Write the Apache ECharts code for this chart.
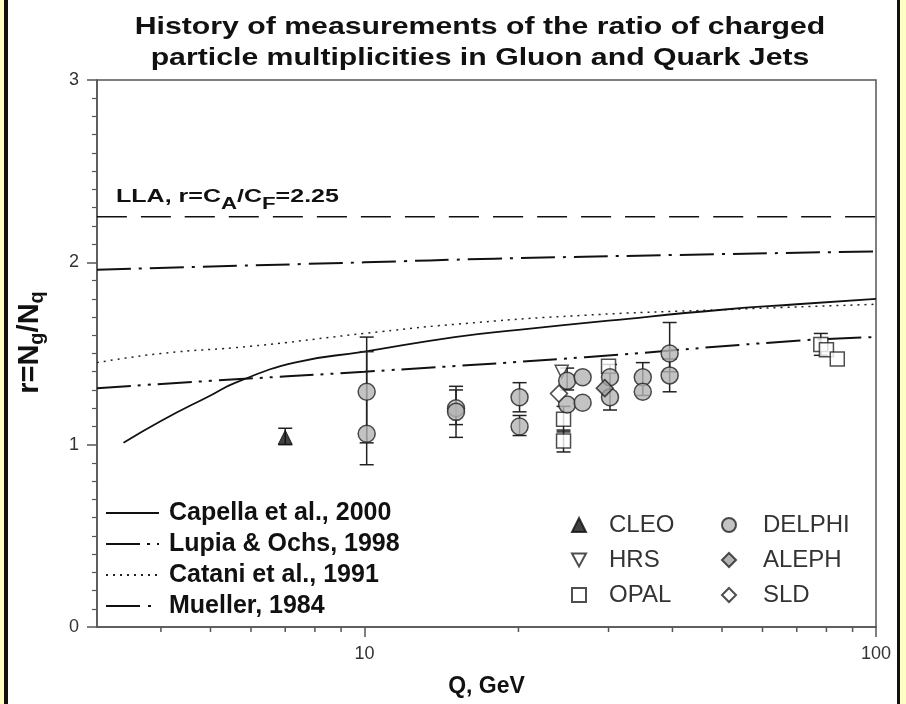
<!DOCTYPE html>
<html>
<head>
<meta charset="utf-8">
<script src="https://cdn.jsdelivr.net/npm/echarts@6/dist/echarts.min.js"></script>
<style>
  html, body { margin: 0; padding: 0; background: #fff; }
  #chart { width: 906px; height: 704px; }
</style>
</head>
<body>
<div id="chart"></div>
<script>
// theory curves: [Q, r]
const llaCurve = [[3, 2.25], [100, 2.25]];
const muellerCurve = [[3, 1.96], [10, 2.00], [18, 2.02], [40, 2.04], [100, 2.06]];
const lupiaCurve = [[3, 1.31], [5, 1.35], [10, 1.40], [27, 1.48], [70, 1.57], [100, 1.59]];
const cataniCurve = [[3, 1.45], [4, 1.50], [6, 1.54], [10, 1.61], [15, 1.66], [27, 1.71], [50, 1.74], [100, 1.77]];
const capellaCurve = [[3.38, 1.01], [4, 1.13], [5, 1.27], [5.6, 1.34], [7.3, 1.45], [10, 1.51], [15, 1.59], [20, 1.63], [30, 1.68], [50, 1.74], [70, 1.77], [100, 1.80]];

// measurements: [Q, r]
const cleoPts = [[7.0, 1.04]];
const hrsPts = [[24.3, 1.40]];
const opalPts = [[24.5, 1.14], [24.5, 1.02], [30, 1.43], [78, 1.55], [80, 1.52], [84, 1.47]];
const delphiPts = [[10.1, 1.29], [10.1, 1.06], [15.1, 1.20], [15.1, 1.18], [20.1, 1.26], [20.1, 1.10],
  [24.9, 1.35], [24.9, 1.22], [26.7, 1.37], [26.7, 1.23], [30.2, 1.37], [30.2, 1.26],
  [35, 1.37], [35, 1.29], [39.5, 1.50], [39.5, 1.38]];
const alephPts = [[29.5, 1.31]];
const sldPts = [[24.0, 1.28]];

// error bars: [Q, low, high]
const errBars = [[7.0, 1.00, 1.09], [10.1, 1.01, 1.59], [10.1, 0.89, 1.51], [15.1, 1.11, 1.32], [15.1, 1.04, 1.30],
  [20.1, 1.18, 1.34], [20.1, 1.05, 1.16], [24.5, 1.07, 1.21], [24.5, 0.96, 1.08], [24.9, 1.30, 1.42],
  [30.2, 1.19, 1.44], [35, 1.27, 1.45], [39.5, 1.40, 1.67], [39.5, 1.29, 1.47], [78, 1.49, 1.61]];

// x minor ticks (log axis)
const xMinorTicks = [4, 5, 6, 7, 8, 9, 20, 30, 40, 50, 60, 70, 80, 90];

const chart = echarts.init(document.getElementById('chart'));

function renderErr(params, api) {
  const a = api.coord([api.value(0), api.value(1)]);
  const b = api.coord([api.value(0), api.value(2)]);
  const w = 7;
  const st = { stroke: '#222', lineWidth: 1.5 };
  return {
    type: 'group',
    children: [
      { type: 'line', shape: { x1: a[0], y1: a[1], x2: b[0], y2: b[1] }, style: st },
      { type: 'line', shape: { x1: a[0] - w, y1: a[1], x2: a[0] + w, y2: a[1] }, style: st },
      { type: 'line', shape: { x1: b[0] - w, y1: b[1], x2: b[0] + w, y2: b[1] }, style: st }
    ]
  };
}

function renderTick(params, api) {
  const p = api.coord([api.value(0), 0]);
  return { type: 'line', shape: { x1: p[0], y1: p[1], x2: p[0], y2: p[1] + 5 }, style: { stroke: '#555', lineWidth: 1.5 } };
}

const lineBase = { type: 'line', smooth: true, showSymbol: false, symbol: 'none', silent: true, z: 3, itemStyle: { color: '#111' } };
const ptBase = { type: 'scatter', z: 6 };

chart.setOption({
  animation: false,
  textStyle: { fontFamily: 'Liberation Sans' },
  grid: { left: 97, right: 30, top: 80, bottom: 77, show: true, borderColor: '#555', borderWidth: 1.5, backgroundColor: 'transparent' },
  legend: [
    {
      orient: 'vertical', left: 100, top: 494, itemWidth: 53, itemHeight: 14, itemGap: 3,
      itemStyle: { opacity: 0 },
      data: ['Capella et al., 2000', 'Lupia & Ochs, 1998', 'Catani et al., 1991', 'Mueller, 1984'],
      textStyle: { fontSize: 25, fontWeight: 'bold', color: '#111', lineHeight: 28, padding: [0, 0, 0, 5] }
    },
    {
      orient: 'vertical', left: 566, top: 506, itemWidth: 14, itemHeight: 14, itemGap: 7,
      data: ['CLEO', { name: 'HRS', icon: 'path://M0,0 L12,0 L6,11 Z' }, 'OPAL'],
      textStyle: { fontSize: 24, color: '#333', lineHeight: 28, padding: [0, 0, 0, 18] }
    },
    {
      orient: 'vertical', left: 716, top: 506, itemWidth: 14, itemHeight: 14, itemGap: 7,
      data: ['DELPHI', 'ALEPH', 'SLD'],
      textStyle: { fontSize: 24, color: '#333', lineHeight: 28, padding: [0, 0, 0, 22] }
    }
  ],
  xAxis: {
    type: 'log', logBase: 10, min: 3, max: 100,
    name: 'Q, GeV', nameLocation: 'middle', nameGap: 48,
    nameTextStyle: { fontSize: 23, fontWeight: 'bold', color: '#111' },
    axisLine: { lineStyle: { color: '#555', width: 1.5 } },
    axisTick: { length: 10, lineStyle: { color: '#555', width: 1.5 } },
    axisLabel: {
      fontSize: 18, color: '#333', margin: 18, showMinLabel: false,
      formatter: function (v) { const l = Math.log10(v); return Math.abs(l - Math.round(l)) < 1e-6 ? String(Math.round(v)) : ''; }
    },
    splitLine: { show: false }
  },
  yAxis: {
    type: 'value', min: 0, max: 3, interval: 1,
    name: 'r=N{s|g}/N{s|q}', nameLocation: 'middle', nameGap: 50,
    nameTextStyle: {
      fontSize: 29, fontWeight: 'bold', color: '#111', padding: [0, 0, 0, 22],
      rich: { s: { fontSize: 20, fontWeight: 'bold', verticalAlign: 'bottom', padding: [15, 0, 0, 0] } }
    },
    axisLine: { lineStyle: { color: '#555', width: 1.5 } },
    axisTick: { length: 10, lineStyle: { color: '#555', width: 1.5 } },
    minorTick: { show: true, splitNumber: 10, length: 5, lineStyle: { color: '#555', width: 1.2 } },
    axisLabel: { fontSize: 18, color: '#333', margin: 18 },
    splitLine: { show: false }
  },
  graphic: [
    { type: 'rect', shape: { x: 0, y: 0, width: 4, height: 704 }, style: { fill: '#ffffc4' } },
    { type: 'rect', shape: { x: 4, y: 0, width: 4, height: 704 }, style: { fill: '#111' } },
    { type: 'rect', shape: { x: 897, y: 0, width: 3, height: 704 }, style: { fill: '#111' } },
    { type: 'rect', shape: { x: 900, y: 0, width: 6, height: 704 }, style: { fill: '#ffffc4' } },
    {
      type: 'text', x: 480, y: 12, scaleX: 1.26,
      style: {
        text: 'History of measurements of the ratio of charged\nparticle multiplicities in Gluon and Quark Jets',
        font: 'bold 24px "Liberation Sans"', fill: '#111', textAlign: 'center', lineHeight: 31
      }
    },
    {
      type: 'text', x: 116, y: 181, scaleX: 1.39,
      style: {
        text: 'LLA, r=C{s|A}/C{s|F}=2.25', font: 'bold 18px "Liberation Sans"', fill: '#111',
        rich: { s: { font: 'bold 16px "Liberation Sans"', fill: '#111', padding: [16, 0, 0, 0] } }
      }
    }
  ],
  series: [
    Object.assign({}, lineBase, { name: 'LLA', data: llaCurve, lineStyle: { color: '#111', width: 1.5, type: [30, 14] } }),
    Object.assign({}, lineBase, { name: 'Mueller, 1984', data: muellerCurve, lineStyle: { color: '#111', width: 2, type: [34, 8, 3, 8] } }),
    Object.assign({}, lineBase, { name: 'Lupia & Ochs, 1998', data: lupiaCurve, lineStyle: { color: '#111', width: 2, type: [34, 7, 3, 7, 3, 7] } }),
    Object.assign({}, lineBase, { name: 'Catani et al., 1991', data: cataniCurve, lineStyle: { color: '#222', width: 1.5, type: [2, 5] } }),
    Object.assign({}, lineBase, { name: 'Capella et al., 2000', data: capellaCurve, lineStyle: { color: '#111', width: 1.8, type: 'solid' } }),
    { type: 'custom', name: 'err', data: errBars, renderItem: renderErr, encode: { x: 0, y: [1, 2] }, z: 5, silent: true },
    { type: 'custom', name: 'minor', data: xMinorTicks.map(q => [q]), renderItem: renderTick, encode: { x: 0 }, z: 2, silent: true },
    Object.assign({}, ptBase, { name: 'CLEO', data: cleoPts, symbol: 'triangle', symbolSize: 14, itemStyle: { color: '#111', borderColor: '#111', borderWidth: 1 } }),
    Object.assign({}, ptBase, { name: 'HRS', data: hrsPts, symbol: 'triangle', symbolRotate: 180, symbolSize: 13, itemStyle: { color: '#fff', borderColor: '#222', borderWidth: 1.5 } }),
    Object.assign({}, ptBase, { name: 'OPAL', data: opalPts, symbol: 'rect', symbolSize: 14, itemStyle: { color: '#fff', borderColor: '#222', borderWidth: 1.5 } }),
    Object.assign({}, ptBase, { name: 'DELPHI', data: delphiPts, symbol: 'circle', symbolSize: 17, itemStyle: { color: '#b4b4b4', borderColor: '#222', borderWidth: 1.5 } }),
    Object.assign({}, ptBase, { name: 'ALEPH', data: alephPts, symbol: 'diamond', symbolSize: 17, itemStyle: { color: '#a0a0a0', borderColor: '#222', borderWidth: 1.5 } }),
    Object.assign({}, ptBase, { name: 'SLD', data: sldPts, symbol: 'diamond', symbolSize: 17, itemStyle: { color: '#fff', borderColor: '#222', borderWidth: 1.5 } })
  ]
});
</script>
</body>
</html>
